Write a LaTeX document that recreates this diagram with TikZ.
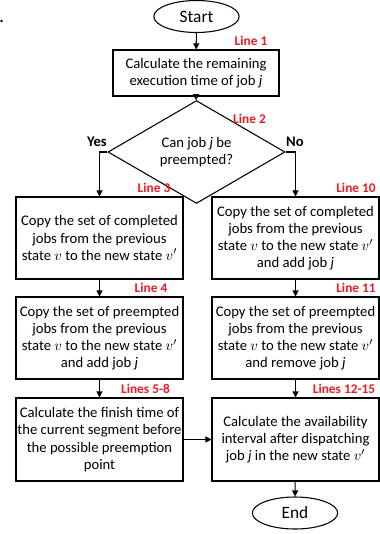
\documentclass[tikz,border=0pt]{standalone}
\usepackage{fontspec}
\setmainfont{Carlito}
\usetikzlibrary{shapes.geometric,arrows.meta}
\definecolor{LRed}{rgb}{0.93,0.11,0.14}
\tikzset{
  flowbox/.style={draw, line width=0.8pt, minimum width=125.25pt, minimum height=61.5pt,
    inner sep=0pt, align=center, font=\fontsize{11}{12.9}\selectfont},
  termnode/.style={draw, ellipse, line width=0.8pt, minimum width=64pt, minimum height=24pt,
    inner sep=0pt, font=\fontsize{13}{15}\selectfont},
  decision/.style={draw, diamond, line width=0.8pt, minimum width=132.75pt, minimum height=60pt,
    inner sep=0pt, align=center, font=\fontsize{11}{12.9}\selectfont},
  linelab/.style={text=LRed, inner sep=0pt, font=\fontsize{10}{12}\selectfont\bfseries},
  branchlab/.style={inner sep=0pt, font=\fontsize{11}{13}\selectfont\bfseries},
  flow/.style={line width=0.8pt, -{Triangle[length=4.5pt,width=4.5pt]}}
}

\begin{document}
\begin{tikzpicture}[x=0.75pt,y=-0.75pt]
\useasboundingbox (0,0) rectangle (379,534);
\fill (1.5,21) circle (1.1pt);

\node[termnode] (start) at (196.5,16.5) {Start};
\node[flowbox, minimum width=124.5pt, minimum height=34.5pt] (remain) at (196,73)
  {Calculate the remaining\\execution time of job \textit{j}};
\node[decision] (preempt) at (196.5,152) {Can job \textit{j} be\\preempted?};

\node[flowbox] (complyes) at (99.5,238)
  {Copy the set of completed\\jobs from the previous\\state $v$ to the new state $v'$};
\node[flowbox] (preyes) at (99.5,338)
  {Copy the set of preempted\\jobs from the previous\\state $v$ to the new state $v'$\\and add job \textit{j}};
\node[flowbox, minimum height=62.25pt] (finish) at (99.5,439.5)
  {Calculate the finish time of\\the current segment before\\the possible preemption\\point};

\node[flowbox] (complno) at (295.5,238)
  {Copy the set of completed\\jobs from the previous\\state $v$ to the new state $v'$\\and add job \textit{j}};
\node[flowbox] (preno) at (295.5,338)
  {Copy the set of preempted\\jobs from the previous\\state $v$ to the new state $v'$\\and remove job \textit{j}};
\node[flowbox, minimum height=62.25pt] (avail) at (295.5,439.5)
  {Calculate the availability\\interval after dispatching\\job \textit{j} in the new state $v'$};

\node[termnode] (end) at (295,513) {End};

\node[linelab] (l1) at (251,41) {Line 1};
\node[linelab] (l2) at (249.5,119) {Line 2};
\node[linelab] (l3) at (154,188) {Line 3};
\node[linelab] (l4) at (151,288) {Line 4};
\node[linelab] (l58) at (145.5,389) {Lines 5-8};
\node[linelab] (l10) at (356,188) {Line 10};
\node[linelab] (l11) at (356,288) {Line 11};
\node[linelab] (l1215) at (344,389) {Lines 12-15};
\node[branchlab] (yes) at (97,142) {Yes};
\node[branchlab] (no) at (295,142) {No};

\draw[flow] (start) -- (remain);
\draw[flow] (remain) -- (preempt);
\draw[flow] (preempt.west) -| (complyes.north);
\draw[flow] (preempt.east) -| (complno.north);
\draw[flow] (complyes) -- (preyes);
\draw[flow] (preyes) -- (finish);
\draw[flow] (complno) -- (preno);
\draw[flow] (preno) -- (avail);
\draw[flow] (finish) -- (avail);
\draw[flow] (avail) -- (end);
\end{tikzpicture}
\end{document}
